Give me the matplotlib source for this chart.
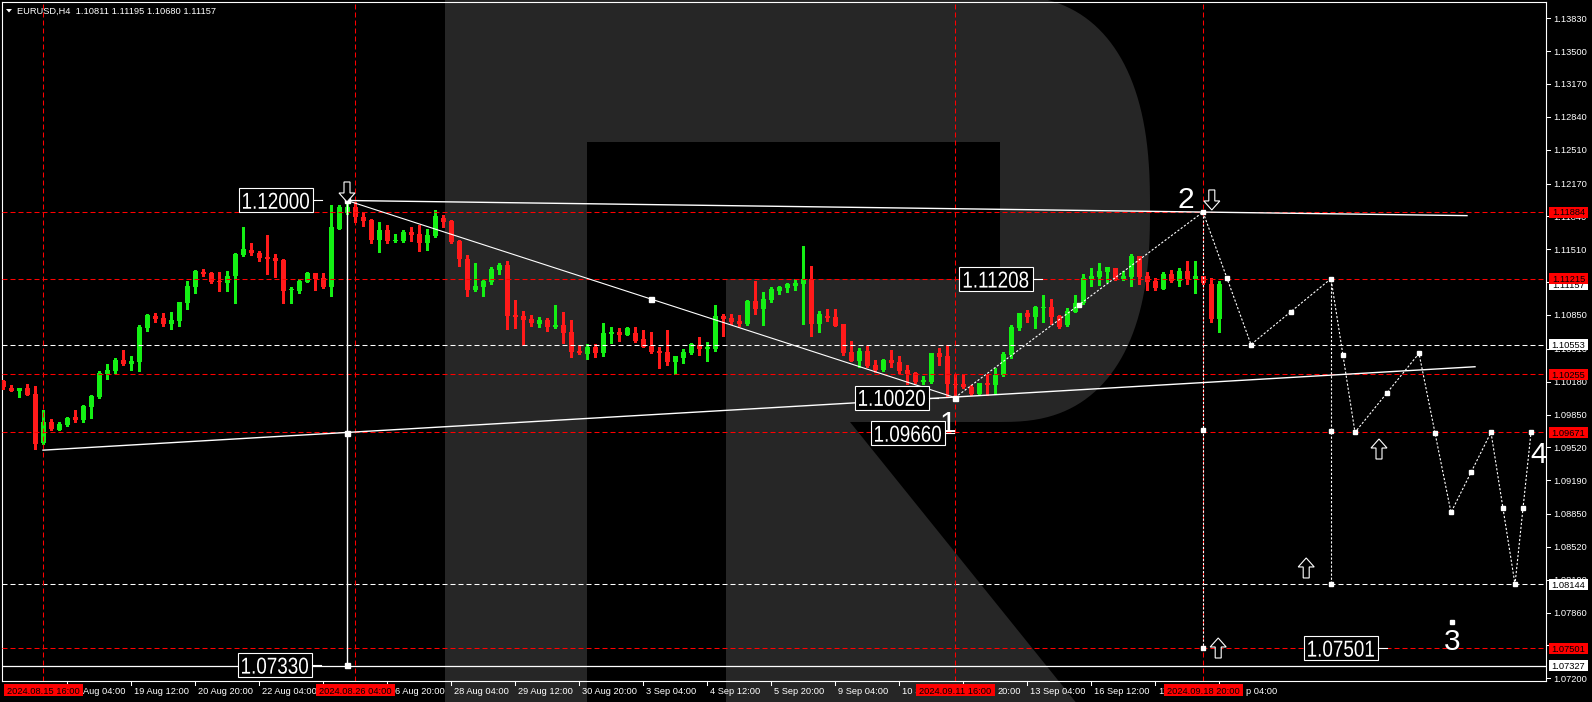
import matplotlib
matplotlib.use('Agg')
import matplotlib.pyplot as plt
import numpy as np
from matplotlib.patches import Rectangle, Polygon, PathPatch
from matplotlib.lines import Line2D
from matplotlib.transforms import IdentityTransform, Affine2D
from matplotlib.textpath import TextPath
from matplotlib.font_manager import FontProperties

W, H, DPI = 1592, 702, 100
plt.rcParams['lines.scale_dashes'] = False
plt.rcParams['font.family'] = ['Liberation Sans', 'DejaVu Sans']
SMALL = ['Liberation Sans', 'DejaVu Sans']

# ------------------------------------------------------------------ data
header = 'EURUSD,H4  1.10811 1.11195 1.10680 1.11157'
first_bar = -5   # bar index of first candle (bar 0 = 2024.08.15 16:00)

opens = [1.10186, 1.10119, 1.10089, 1.10116, 1.10055, 1.09560, 1.09774, 1.09694, 1.09740, 1.09824,
         1.09794, 1.09928, 1.10022, 1.10256, 1.10287, 1.10394, 1.10360, 1.10377, 1.10719, 1.10839,
         1.10819, 1.10759, 1.10789, 1.10973, 1.11134, 1.11278, 1.11268, 1.11194, 1.11174, 1.11241,
         1.11452, 1.11503, 1.11469, 1.11429, 1.11422, 1.11402, 1.11097, 1.11091, 1.11184, 1.11268,
         1.11225, 1.11134, 1.11717, 1.11871, 1.11938, 1.11831, 1.11804, 1.11603, 1.11704, 1.11590,
         1.11593, 1.11683, 1.11663, 1.11576, 1.11643, 1.11824, 1.11794, 1.11593, 1.11412, 1.11101,
         1.11134, 1.11181, 1.11305, 1.11352, 1.10850, 1.10840, 1.10810, 1.10759, 1.10799, 1.10732,
         1.10749, 1.10679, 1.10488, 1.10458, 1.10528, 1.10468, 1.10659, 1.10679, 1.10649, 1.10669,
         1.10609, 1.10538, 1.10488, 1.10478, 1.10377, 1.10418, 1.10468, 1.10548, 1.10508, 1.10508,
         1.10840, 1.10820, 1.10789, 1.10759, 1.10990, 1.10910, 1.11001, 1.11091, 1.11121, 1.11141,
         1.11161, 1.11212, 1.10759, 1.10840, 1.10830, 1.10759, 1.10478, 1.10391, 1.10488, 1.10347,
         1.10297, 1.10397, 1.10377, 1.10297, 1.10267, 1.10177, 1.10180, 1.10468, 1.10438, 1.10157,
         1.10157, 1.10130, 1.10056, 1.10167, 1.10146, 1.10247, 1.10448, 1.10722, 1.10873, 1.10833,
         1.10923, 1.10930, 1.10839, 1.10749, 1.10883, 1.10966, 1.11214, 1.11235, 1.11285, 1.11322,
         1.11214, 1.11235, 1.11442, 1.11241, 1.11194, 1.11111, 1.11261, 1.11194, 1.11291, 1.11214,
         1.11241, 1.11161, 1.10811]
highs = [1.10200, 1.10146, 1.10116, 1.10156, 1.10136, 1.09894, 1.09801, 1.09774, 1.09828, 1.09894,
         1.09941, 1.10049, 1.10290, 1.10357, 1.10417, 1.10498, 1.10437, 1.10745, 1.10859, 1.10866,
         1.10866, 1.10879, 1.10980, 1.11188, 1.11302, 1.11315, 1.11281, 1.11281, 1.11295, 1.11469,
         1.11737, 1.11570, 1.11496, 1.11650, 1.11462, 1.11415, 1.11127, 1.11214, 1.11281, 1.11275,
         1.11268, 1.11951, 1.11951, 1.12000, 1.11985, 1.11884, 1.11810, 1.11784, 1.11757, 1.11663,
         1.11704, 1.11737, 1.11757, 1.11710, 1.11904, 1.11851, 1.11804, 1.11603, 1.11456, 1.11369,
         1.11201, 1.11328, 1.11376, 1.11392, 1.11001, 1.10890, 1.10850, 1.10830, 1.10820, 1.10950,
         1.10880, 1.10799, 1.10548, 1.10555, 1.10558, 1.10769, 1.10729, 1.10719, 1.10729, 1.10729,
         1.10699, 1.10679, 1.10528, 1.10699, 1.10438, 1.10508, 1.10568, 1.10629, 1.10578, 1.10950,
         1.10860, 1.10860, 1.10850, 1.11001, 1.11191, 1.11081, 1.11131, 1.11141, 1.11171, 1.11212,
         1.11543, 1.11342, 1.10890, 1.10910, 1.10910, 1.10759, 1.10588, 1.10518, 1.10538, 1.10397,
         1.10408, 1.10498, 1.10438, 1.10347, 1.10277, 1.10237, 1.10471, 1.10518, 1.10548, 1.10257,
         1.10257, 1.10146, 1.10167, 1.10247, 1.10317, 1.10478, 1.10749, 1.10870, 1.10900, 1.10943,
         1.11050, 1.11010, 1.10849, 1.10920, 1.11050, 1.11261, 1.11322, 1.11372, 1.11332, 1.11322,
         1.11291, 1.11462, 1.11442, 1.11281, 1.11221, 1.11281, 1.11302, 1.11322, 1.11392, 1.11392,
         1.11241, 1.11221, 1.11195]
lows = [1.10110, 1.10089, 1.10029, 1.10049, 1.09506, 1.09553, 1.09694, 1.09694, 1.09734, 1.09774,
        1.09774, 1.09814, 1.10015, 1.10206, 1.10263, 1.10347, 1.10297, 1.10287, 1.10692, 1.10779,
        1.10739, 1.10712, 1.10739, 1.10913, 1.11074, 1.11245, 1.11168, 1.11094, 1.11094, 1.10973,
        1.11442, 1.11449, 1.11395, 1.11261, 1.11235, 1.10973, 1.10973, 1.11074, 1.11178, 1.11101,
        1.11121, 1.11040, 1.11710, 1.11860, 1.11784, 1.11744, 1.11576, 1.11482, 1.11570, 1.11583,
        1.11583, 1.11590, 1.11496, 1.11503, 1.11630, 1.11737, 1.11576, 1.11342, 1.11040, 1.11094,
        1.11040, 1.11161, 1.11262, 1.10709, 1.10722, 1.10548, 1.10739, 1.10729, 1.10689, 1.10719,
        1.10568, 1.10428, 1.10458, 1.10408, 1.10428, 1.10438, 1.10568, 1.10588, 1.10649, 1.10578,
        1.10528, 1.10468, 1.10317, 1.10347, 1.10257, 1.10367, 1.10458, 1.10448, 1.10387, 1.10488,
        1.10639, 1.10759, 1.10739, 1.10749, 1.10860, 1.10749, 1.10980, 1.11061, 1.11081, 1.11101,
        1.10759, 1.10639, 1.10679, 1.10789, 1.10739, 1.10448, 1.10391, 1.10330, 1.10330, 1.10280,
        1.10287, 1.10330, 1.10270, 1.10153, 1.10170, 1.10157, 1.10163, 1.10347, 1.10040, 1.10020,
        1.10120, 1.10046, 1.10056, 1.10046, 1.10066, 1.10237, 1.10414, 1.10699, 1.10782, 1.10722,
        1.10782, 1.10759, 1.10722, 1.10739, 1.10883, 1.10960, 1.11141, 1.11151, 1.11181, 1.11201,
        1.11201, 1.11141, 1.11161, 1.11101, 1.11101, 1.11111, 1.11184, 1.11141, 1.11161, 1.11070,
        1.11161, 1.10782, 1.10680]
closes = [1.10122, 1.10089, 1.10116, 1.10049, 1.09553, 1.09774, 1.09707, 1.09754, 1.09814, 1.09794,
          1.09935, 1.10035, 1.10263, 1.10297, 1.10397, 1.10357, 1.10387, 1.10732, 1.10849, 1.10809,
          1.10759, 1.10799, 1.10980, 1.11141, 1.11291, 1.11261, 1.11184, 1.11181, 1.11241, 1.11462,
          1.11513, 1.11469, 1.11425, 1.11415, 1.11395, 1.11094, 1.11111, 1.11191, 1.11268, 1.11211,
          1.11134, 1.11734, 1.11935, 1.11938, 1.11831, 1.11797, 1.11603, 1.11704, 1.11590, 1.11603,
          1.11687, 1.11657, 1.11576, 1.11653, 1.11844, 1.11784, 1.11583, 1.11409, 1.11101, 1.11141,
          1.11188, 1.11315, 1.11356, 1.10843, 1.10830, 1.10799, 1.10769, 1.10799, 1.10729, 1.10749,
          1.10669, 1.10478, 1.10468, 1.10528, 1.10468, 1.10669, 1.10679, 1.10649, 1.10719, 1.10588,
          1.10528, 1.10478, 1.10468, 1.10377, 1.10438, 1.10478, 1.10558, 1.10508, 1.10528, 1.10840,
          1.10810, 1.10779, 1.10759, 1.10990, 1.10910, 1.11011, 1.11111, 1.11131, 1.11161, 1.11171,
          1.11212, 1.10759, 1.10860, 1.10820, 1.10739, 1.10468, 1.10391, 1.10488, 1.10337, 1.10297,
          1.10397, 1.10371, 1.10290, 1.10257, 1.10180, 1.10197, 1.10464, 1.10431, 1.10157, 1.10146,
          1.10130, 1.10056, 1.10167, 1.10146, 1.10247, 1.10458, 1.10733, 1.10870, 1.10833, 1.10933,
          1.10930, 1.10833, 1.10732, 1.10890, 1.10973, 1.11224, 1.11241, 1.11291, 1.11332, 1.11214,
          1.11241, 1.11442, 1.11235, 1.11184, 1.11124, 1.11261, 1.11194, 1.11291, 1.11214, 1.11241,
          1.11168, 1.10812, 1.11157]

# price axis
price_ticks = [1.13830, 1.13500, 1.13170, 1.12840, 1.12510, 1.12170, 1.11840, 1.11510, 1.11180,
               1.10850, 1.10510, 1.10180, 1.09850, 1.09520, 1.09190, 1.08850, 1.08520, 1.08190,
               1.07860, 1.07530, 1.07200]
# time axis
time_tick_bars = [3, 11, 19, 27, 35, 43, 51, 59, 67, 75, 83, 91, 99, 107, 115, 123, 131, 139, 147]
time_tick_labels = ['16 Aug 04:00', '19 Aug 12:00', '20 Aug 20:00', '22 Aug 04:00', '23 Aug 12:00',
                    '26 Aug 20:00', '28 Aug 04:00', '29 Aug 12:00', '30 Aug 20:00', '3 Sep 04:00',
                    '4 Sep 12:00', '5 Sep 20:00', '9 Sep 04:00', '10 Sep 12:00', '11 Sep 20:00',
                    '13 Sep 04:00', '16 Sep 12:00', '17 Sep 20:00', '19 Sep 04:00']

# horizontal levels
red_levels = [1.11884, 1.11215, 1.10255, 1.09671, 1.07501]
white_dash_levels = [1.10553, 1.08144]
white_solid_level = 1.07327
bid_price = 1.11157

# vertical red lines
vline_bars = [0, 39, 114, 145]
vline_labels = ['2024.08.15 16:00', '2024.08.26 04:00', '2024.09.11 16:00', '2024.09.18 20:00']

# trend lines (bar, price)
upper_bars, upper_prices = [38, 178], [1.12000, 1.11848]
lower_bars, lower_prices = [0, 179], [1.09492, 1.10330]
fall_bars, fall_prices = [38, 114], [1.12000, 1.10020]
vert_bar, vert_prices = 38, [1.12000, 1.07330]

# forecast path
path_bars = [114, 145, 151, 161, 164, 172, 176, 181, 184, 186]
path_prices = [1.10020, 1.11884, 1.10553, 1.11215, 1.09671, 1.10464, 1.08866, 1.09671, 1.08144, 1.09671]
drop_bars = [145, 161]
drop_tops = [1.11884, 1.11215]
drop_bottoms = [1.07501, 1.08144]

# price label objects: text, anchor bar, anchor price, box right offset (px)
label_texts = ['1.12000', '1.07330', '1.11208', '1.10020', '1.09660', '1.07501']
label_bars = [38, 38, 125, 114, 114, 168]
label_prices = [1.12000, 1.07330, 1.11208, 1.10020, 1.09660, 1.07501]
label_offsets = [-34, -35, -10, -26, -10, -9]

# wave labels
wave_texts = ['1', '2', '3', '4']
wave_bars = [113.1, 142.9, 176.1, 187.0]
wave_prices = [1.09678, 1.11925, 1.07485, 1.09363]

# arrows (tip positions)
down_arrow_bars, down_arrow_prices = [38, 146.1], [1.11985, 1.11905]
up_arrow_bars, up_arrow_prices = [167, 157.9, 146.9], [1.09604, 1.08409, 1.07605]

# ------------------------------------------------------------------ figure
GREEN, RED = '#14f014', '#ff1a1a'
LRED = '#ff0000'
GRAY = '#262626'
ID = IdentityTransform()
SFS = 6.7                      # small font size (pt)
S_HALF = 0.358 * SFS / 0.72    # half digit height in px
FP = FontProperties(family='Liberation Sans')

fig = plt.figure(figsize=(W / DPI, H / DPI), dpi=DPI, facecolor='black')

# watermark "R" (background, image pixel coordinates)
t = np.linspace(np.pi / 2, -np.pi / 2, 80)
cx, cy, rx, ry, ex = 1000, 208.5, 150, 213.5, 0.8
arc = [(cx + rx * abs(np.cos(a)) ** ex, cy - ry * np.sign(np.sin(a)) * abs(np.sin(a)) ** ex) for a in t]
outer = [(445, H + 3), (445, -3), (1000, -3)] + arc + [(850, 422), (1078, H + 3)]
counter = [(587, 142), (1000, 142), (1000, 279), (726, 279), (726, H + 3), (587, H + 3)]
fig.add_artist(Polygon([(x, H - y) for x, y in outer], closed=True, transform=ID,
                       fc=GRAY, ec='none', zorder=-5))
fig.add_artist(Polygon([(x, H - y) for x, y in counter], closed=True, transform=ID,
                       fc='black', ec='none', zorder=-4))

ax = fig.add_axes([2 / W, (H - 681) / H, 1544 / W, 679 / H])
ax.set_facecolor('none')
ax.set_xlim(-5.125, 187.875)
ax.set_ylim(1.07173, 1.13994)
ax.set_xticks([])
ax.set_yticks([])
for s in ax.spines.values():
    s.set_color('white')
    s.set_linewidth(0.8)

def to_disp(b, p):
    return ax.transData.transform((b, p))

def cond_text(xc, base, s, size_px, sx, z, color='white'):
    tp = TextPath((0, 0), s, size=size_px, prop=FP)
    e = tp.get_extents()
    tr = Affine2D().translate(-(e.x0 + e.x1) / 2, 0).scale(sx, 1).translate(xc, base)
    ax.add_patch(PathPatch(tr.transform_path(tp), transform=ID, fc=color, ec='none',
                           lw=0, zorder=z, clip_on=False))

# candles
O, Hh, L, C = map(np.array, (opens, highs, lows, closes))
bars = np.arange(first_bar, first_bar + len(O))
cols = np.where(C >= O, GREEN, RED)
ax.vlines(bars, L, Hh, colors=cols, lw=0.75, antialiased=False, zorder=3)
ax.bar(bars, np.maximum(np.abs(C - O), 0.00009), width=0.625, bottom=np.minimum(O, C),
       color=cols, lw=0, antialiased=False, zorder=4)

# horizontal / vertical levels
DASH = (3.6, 2.16)
for lv in red_levels:
    ax.axhline(lv, color=LRED, lw=0.75, dashes=DASH, zorder=5)
for lv in white_dash_levels:
    ax.axhline(lv, color='white', lw=0.75, dashes=DASH, zorder=5)
ax.axhline(white_solid_level, color='white', lw=0.9, zorder=5)
for b in vline_bars:
    ax.axvline(b, color=LRED, lw=0.75, dashes=DASH, zorder=5)

# trend lines
ax.plot(upper_bars, upper_prices, color='white', lw=1.0, zorder=6)
ax.plot(lower_bars, lower_prices, color='white', lw=1.0, zorder=6)
ax.plot(fall_bars, fall_prices, color='white', lw=0.8, zorder=6)
ax.plot([vert_bar, vert_bar], vert_prices, color='white', lw=1.0, zorder=6)
sq_b = [fall_bars[0], np.mean(fall_bars), fall_bars[1], vert_bar, vert_bar]
sq_p = [fall_prices[0], np.mean(fall_prices), fall_prices[1], np.mean(vert_prices), vert_prices[1]]
ax.plot(sq_b, sq_p, 's', ms=3.6, color='white', zorder=7)

# forecast path (dotted)
DOT = (1.6, 1.3)
ax.plot(path_bars, path_prices, color='white', lw=0.8, dashes=DOT, zorder=6)
for b, top, bot in zip(drop_bars, drop_tops, drop_bottoms):
    ax.plot([b, b], [top, bot], color='white', lw=0.8, dashes=DOT, zorder=6)
mid_b = [(a + b) / 2 for a, b in zip(path_bars[:-1], path_bars[1:])] + drop_bars
mid_p = [(a + b) / 2 for a, b in zip(path_prices[:-1], path_prices[1:])] + \
        [(a + b) / 2 for a, b in zip(drop_tops, drop_bottoms)]
ax.plot(path_bars[1:] + drop_bars, path_prices[1:] + drop_bottoms, 's', ms=3.0, color='white', zorder=7)
ax.plot(mid_b, mid_p, 's', ms=2.8, color='white', zorder=7)

# wave labels
for txt, b, p in zip(wave_texts, wave_bars, wave_prices):
    ax.text(b, p, txt, ha='center', va='baseline', color='white', fontsize=21.5, zorder=8)
ax.plot([wave_bars[2]], [1.07766], 's', ms=2.2, color='white', zorder=8)

# hollow arrows
def arrow(b, p, up):
    X, Y = to_disp(b, p)
    sgn = -1 if up else 1
    pts = [(0, 0), (8, 9), (3, 9), (3, 20), (-3, 20), (-3, 9), (-8, 9)]
    ax.add_patch(Polygon([(X + dx, Y + sgn * dy) for dx, dy in pts], closed=True, transform=ID,
                         fc='black', ec='white', lw=0.8, zorder=9))
for b, p in zip(down_arrow_bars, down_arrow_prices):
    arrow(b, p, False)
for b, p in zip(up_arrow_bars, up_arrow_prices):
    arrow(b, p, True)

# price label boxes on chart
EM = 23.0
for txt, b, p, off in zip(label_texts, label_bars, label_prices, label_offsets):
    X, Y = to_disp(b, p)
    r = X + off
    ax.add_patch(Rectangle((r - 74, Y - 12), 74, 24, transform=ID, fc='black', ec='white',
                           lw=0.8, zorder=10, clip_on=False))
    cond_text(r - 37, Y - 0.358 * EM, txt, EM, 0.82, 11)
    ax.add_line(Line2D([r, r + 9], [Y, Y], transform=ID, color='white', lw=0.8, zorder=10))

# right price axis
box_levels = red_levels + white_dash_levels + [white_solid_level, bid_price]
box_y = [to_disp(0, v)[1] for v in box_levels]
for v in price_ticks:
    _, Y = to_disp(0, v)
    fig.add_artist(Line2D([1546, 1550], [Y, Y], transform=ID, color='white', lw=0.75, zorder=5))
    if min(abs(Y - by) for by in box_y) < 4:
        continue   # fully hidden behind a price box
    fig.text(1553, Y - S_HALF, f'{v:.5f}', transform=ID, ha='left', va='baseline',
             color='white', fontsize=SFS, family=SMALL, zorder=5)

def axis_box(v, fc, z):
    _, Y = to_disp(0, v)
    fig.add_artist(Rectangle((1549, Y - 5.5), 39, 11, transform=ID, fc=fc, ec='none', zorder=z))
    fig.text(1568.5, Y - S_HALF, f'{v:.5f}', transform=ID, ha='center', va='baseline',
             color='black', fontsize=SFS, family=SMALL, zorder=z + 0.1)

axis_box(bid_price, 'white', 6)
for v in white_dash_levels + [white_solid_level]:
    axis_box(v, 'white', 6)
for v in red_levels:
    axis_box(v, LRED, 7)

# bottom time axis
renderer = fig.canvas.get_renderer()
def tw(s):
    tt = fig.text(0, 0, s + '|', fontsize=SFS, family=SMALL, transform=ID)
    w1 = tt.get_window_extent(renderer).width
    tt.set_text('|')
    w2 = tt.get_window_extent(renderer).width
    tt.remove()
    return w1 - w2

spans = []
for b, lab in zip(vline_bars, vline_labels):
    X, _ = to_disp(b, 1.1)
    spans.append((X - 39.5, X + 39.5))
    fig.add_artist(Rectangle((X - 39.5, H - 695.5), 79, 11.5, transform=ID, fc=LRED, ec='none', zorder=7))
    fig.text(X, H - 693.5, lab, transform=ID, ha='center', va='baseline', color='black',
             fontsize=SFS, family=SMALL, zorder=7.1)

for b, lab in zip(time_tick_bars, time_tick_labels):
    X, _ = to_disp(b, 1.1)
    fig.add_artist(Line2D([X, X], [H - 681, H - 685], transform=ID, color='white', lw=0.75, zorder=5))
    x0 = X + 3
    x1 = x0 + tw(lab)
    start, end, hidden = 0, len(lab), False
    for bl, br in spans:
        if bl <= x0 + 0.5 and br >= x1 - 0.5:
            hidden = True
        elif bl <= x0 < br:
            start = next(k for k in range(len(lab) + 1) if x0 + tw(lab[:k]) >= br - 1)
        elif x0 < bl < x1 - 6:
            end = max(k for k in range(len(lab) + 1) if x0 + tw(lab[:k]) <= bl + 6)
    if hidden:
        continue
    while start < end and lab[start] == ' ':
        start += 1
    frag = lab[start:end].rstrip()
    if frag:
        fig.text(x0 + tw(lab[:start]), H - 693.5, frag, transform=ID, ha='left', va='baseline',
                 color='white', fontsize=SFS, family=SMALL, zorder=5)

# header
fig.add_artist(Polygon([(6, H - 9), (12, H - 9), (9, H - 12.5)], closed=True, transform=ID,
                       fc='white', ec='none', zorder=8))
fig.text(17, H - 14, header, transform=ID, ha='left', va='baseline', color='white',
         fontsize=SFS, family=SMALL, zorder=8)

fig.savefig('out.png', dpi=DPI, facecolor='black')
